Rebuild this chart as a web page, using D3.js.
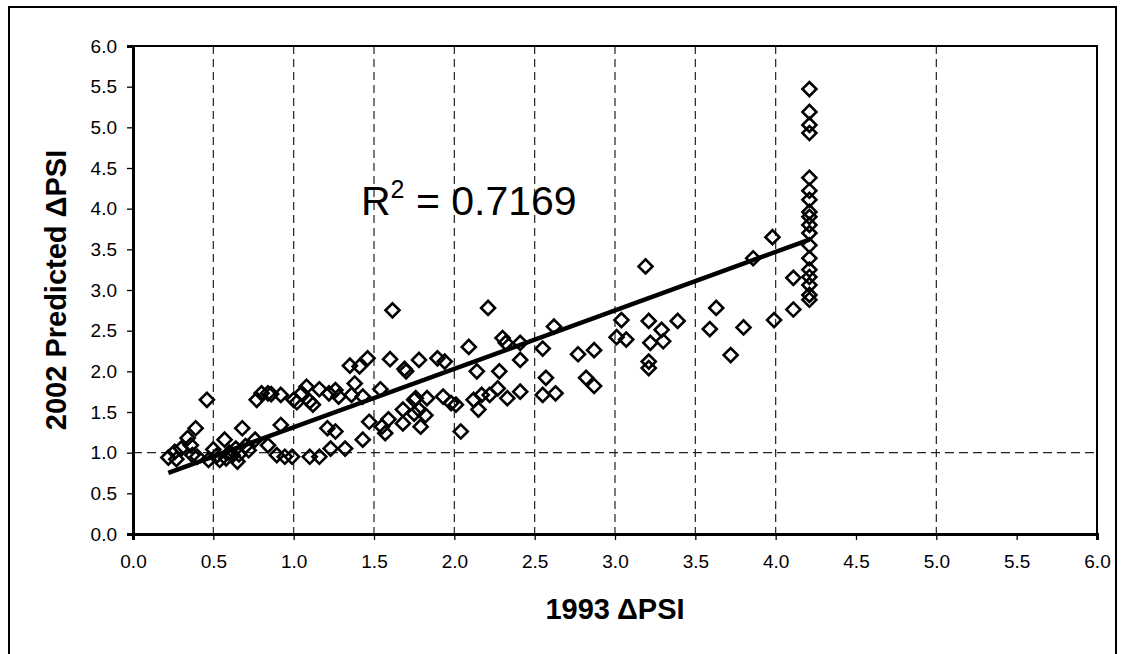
<!DOCTYPE html>
<html>
<head>
<meta charset="utf-8">
<script src="https://cdn.jsdelivr.net/npm/d3@7"></script>
<style>
  body{margin:0;background:#fff;}
  text{font-family:"Liberation Sans",Arial,sans-serif;fill:#000;}
</style>
</head>
<body>
<div id="chart"></div>
<script>
// 1993 dPSI (x) vs 2002 predicted dPSI (y)
var xVals = [0.22,0.26,0.27,0.30,0.34,0.36,0.37,0.39,0.40,0.46,0.47,0.50,0.52,0.54,0.57,0.58,0.60,0.62,0.64,0.65,0.66,0.68,0.70,0.72,0.76,0.77,0.80,0.84,0.84,0.86,0.895,0.92,0.92,0.945,0.99,
  1.00,1.02,1.05,1.08,1.10,1.10,1.12,1.16,1.16,1.21,1.22,1.23,1.26,1.26,1.28,1.32,1.35,1.36,1.38,1.41,1.43,1.43,1.46,1.47,1.54,1.55,1.57,1.59,1.60,1.615,1.68,1.68,1.69,1.70,1.75,1.75,1.76,1.78,1.78,1.79,1.82,1.83,1.895,1.93,1.94,1.98,
  2.01,2.04,2.09,2.12,2.14,2.15,2.17,2.21,2.22,2.27,2.28,2.30,2.32,2.33,2.41,2.41,2.41,2.55,2.55,2.57,2.62,2.63,2.77,2.82,2.87,2.87,
  3.01,3.04,3.07,3.19,3.21,3.21,3.21,3.22,3.29,3.30,3.39,3.59,3.63,3.72,3.80,3.86,3.98,3.99,4.11,4.11,
  4.21,4.21,4.21,4.21,4.21,4.21,4.21,4.21,4.21,4.21,4.21,4.21,4.21,4.21,4.21,4.21,4.21,4.21];
var yVals = [0.94,1.01,0.92,1.05,1.18,1.09,0.97,1.30,0.95,1.65,0.91,1.04,0.96,0.91,1.16,0.93,1.00,0.97,1.05,0.89,0.98,1.30,1.08,1.03,1.16,1.65,1.73,1.73,1.09,1.72,0.97,1.71,1.34,0.95,0.95,
  1.65,1.62,1.73,1.81,1.63,0.95,1.59,0.95,1.78,1.30,1.73,1.05,1.26,1.77,1.69,1.05,2.07,1.71,1.85,2.06,1.69,1.16,2.16,1.38,1.78,1.32,1.24,1.41,2.15,2.75,1.36,1.53,2.03,2.00,1.65,1.48,1.67,2.14,1.53,1.32,1.46,1.67,2.16,1.69,2.12,1.61,
  1.59,1.26,2.30,1.65,2.00,1.53,1.71,2.78,1.71,1.79,2.00,2.41,2.35,1.67,2.35,2.14,1.75,2.28,1.71,1.92,2.55,1.73,2.21,1.92,2.26,1.82,
  2.42,2.63,2.39,3.29,2.62,2.12,2.04,2.35,2.51,2.37,2.62,2.52,2.78,2.20,2.54,3.39,3.65,2.63,2.76,3.15,
  5.47,5.19,5.03,4.93,4.38,4.22,4.11,3.96,3.90,3.80,3.70,3.55,3.39,3.25,3.16,3.06,2.94,2.88];

var xTicks = [0,0.5,1,1.5,2,2.5,3,3.5,4,4.5,5,5.5,6];
var yTicks = [0,0.5,1,1.5,2,2.5,3,3.5,4,4.5,5,5.5,6];
var xDashLines = [0.5,1,1.5,2,2.5,3,3.5,4,5];
var yDashLines = [1];

// linear trend line shown on the chart
var trendSlope = 0.719, trendIntercept = 0.593, trendFrom = 0.22, trendTo = 4.21;
var rSquared = "0.7169";

var W = 1127, H = 654;
var margin = {left:133, top:46, right:30, bottom:120};
var pw = 1097 - margin.left, ph = 534 - margin.top;

var svg = d3.select("#chart").append("svg")
  .attr("width", W).attr("height", H);

// outer frame of the figure
svg.append("rect")
  .attr("x", 9).attr("y", 7)
  .attr("width", 1107).attr("height", 700)
  .attr("fill", "none").attr("stroke", "#000").attr("stroke-width", 2);

var g = svg.append("g")
  .attr("transform", "translate(" + margin.left + "," + margin.top + ")");

var x = d3.scaleLinear().domain([0, 6]).range([0, pw]);
var y = d3.scaleLinear().domain([0, 6]).range([ph, 0]);

// dashed reference lines
g.selectAll("line.vdash").data(xDashLines).enter().append("line")
  .attr("class", "vdash")
  .attr("x1", function(d){ return x(d); }).attr("x2", function(d){ return x(d); })
  .attr("y1", 0).attr("y2", ph)
  .attr("stroke", "#222").attr("stroke-width", 1.2).attr("stroke-dasharray", "8,5");

g.selectAll("line.hdash").data(yDashLines).enter().append("line")
  .attr("class", "hdash")
  .attr("x1", 0).attr("x2", pw)
  .attr("y1", function(d){ return y(d); }).attr("y2", function(d){ return y(d); })
  .attr("stroke", "#222").attr("stroke-width", 1.2).attr("stroke-dasharray", "9,5");

// plot border
g.append("rect")
  .attr("width", pw).attr("height", ph)
  .attr("fill", "none").attr("stroke", "#000").attr("stroke-width", 2);

var xAxis = g.append("g")
  .attr("transform", "translate(0," + ph + ")")
  .call(d3.axisBottom(x).tickValues(xTicks).tickFormat(d3.format(".1f")).tickSizeOuter(0).tickSize(6).tickPadding(15));
var yAxis = g.append("g")
  .call(d3.axisLeft(y).tickValues(yTicks).tickFormat(d3.format(".1f")).tickSizeOuter(0).tickSize(6).tickPadding(10));

[xAxis, yAxis].forEach(function(a){
  a.select(".domain").attr("stroke", "#000").attr("stroke-width", 3);
  a.selectAll(".tick line").attr("stroke", "#000").attr("stroke-width", 1.3);
  a.selectAll(".tick text").style("font-size", "19px").style("font-family", "Liberation Sans, Arial, sans-serif");
});

// markers: open diamonds
var pts = xVals.map(function(v, i){ return {x: v, y: yVals[i]}; });
var diamond = d3.symbol().type(d3.symbolSquare).size(98);
g.selectAll("path.pt").data(pts).enter().append("path")
  .attr("class", "pt")
  .attr("d", diamond)
  .attr("transform", function(d){ return "translate(" + x(d.x) + "," + y(d.y) + ") rotate(45)"; })
  .attr("fill", "none").attr("stroke", "#000").attr("stroke-width", 2.6);

// trend line
var trend = [trendFrom, trendTo].map(function(v){ return {x: v, y: trendIntercept + trendSlope * v}; });
g.append("path")
  .datum(trend)
  .attr("d", d3.line().x(function(d){ return x(d.x); }).y(function(d){ return y(d.y); }))
  .attr("fill", "none").attr("stroke", "#000").attr("stroke-width", 4.5);

// R^2 label
var r2 = svg.append("text")
  .attr("x", 361).attr("y", 215)
  .style("font-size", "41px");
r2.append("tspan").text("R");
r2.append("tspan").attr("dy", -17).style("font-size", "25px").text("2");
r2.append("tspan").attr("dy", 17).text(" = " + rSquared);

// axis titles
svg.append("text")
  .attr("x", margin.left + pw / 2).attr("y", 619)
  .attr("text-anchor", "middle")
  .style("font-size", "29px").style("font-weight", "bold")
  .text("1993 \u0394PSI");

svg.append("text")
  .attr("transform", "translate(66," + (margin.top + ph / 2) + ") rotate(-90)")
  .attr("text-anchor", "middle")
  .style("font-size", "29px").style("font-weight", "bold")
  .text("2002 Predicted \u0394PSI");
</script>
</body>
</html>
